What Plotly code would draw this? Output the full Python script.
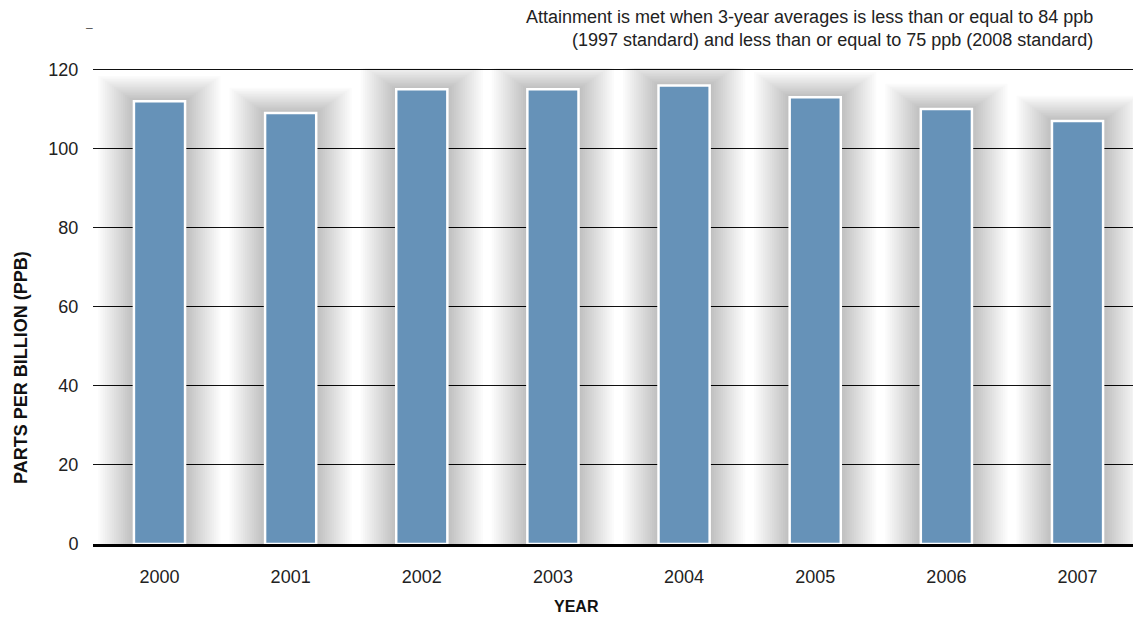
import plotly.graph_objects as go

years = ["2000", "2001", "2002", "2003", "2004", "2005", "2006", "2007"]
ozone_ppb = [112, 109, 115, 115, 116, 113, 110, 107]
y_ticks = [0, 20, 40, 60, 80, 100, 120]

note = ("Attainment is met when 3-year averages is less than or equal to 84 ppb<br>"
        "(1997 standard) and less than or equal to 75 ppb (2008 standard)")

FONT = "Liberation Sans"
BAR_W = 0.39
N_SHADOW = 16

fig = go.Figure()

# soft shadow around bars (layered translucent bars)
for k in range(1, N_SHADOW + 1):
    fig.add_trace(go.Bar(
        x=years, y=[v + 0.4 * k for v in ozone_ppb],
        width=BAR_W + 0.034 * k,
        marker=dict(color="rgba(0,0,0,0.016)", line=dict(width=0)),
        hoverinfo="skip", showlegend=False,
    ))

fig.add_trace(go.Bar(
    x=years, y=ozone_ppb, width=BAR_W,
    marker=dict(color="#6692b8", line=dict(color="white", width=2.5)),
    showlegend=False,
))

fig.update_layout(
    width=1140, height=617,
    barmode="overlay",
    plot_bgcolor="white", paper_bgcolor="white",
    margin=dict(l=93, r=7, t=68, b=73),
    font=dict(family=FONT, color="#222", size=18),
    xaxis=dict(
        range=[-0.507, 7.423],
        showgrid=False, showline=True, linecolor="black", linewidth=3,
        ticks="outside", ticklen=14, tickcolor="rgba(0,0,0,0)",
        tickfont=dict(size=18, color="#222"),
    ),
    yaxis=dict(
        range=[0, 120.4], tickvals=y_ticks,
        showgrid=True, gridcolor="#111", gridwidth=1,
        zeroline=False,
        ticks="outside", ticklen=10, tickcolor="rgba(0,0,0,0)",
        tickfont=dict(size=18, color="#222"),
    ),
    annotations=[
        dict(text=note, xref="paper", yref="paper", x=0.963, y=1.0, yshift=63,
             xanchor="right", yanchor="top", align="right", showarrow=False,
             font=dict(size=18, color="#222")),
        dict(text="–", xref="paper", yref="paper", x=-0.003, y=1.0, yshift=40,
             xanchor="center", yanchor="middle", showarrow=False,
             font=dict(size=12, color="#555")),
        dict(text="<b>YEAR</b>", xref="paper", yref="paper", x=0.465, y=0, yshift=-62,
             xanchor="center", yanchor="middle", showarrow=False,
             font=dict(size=16, color="#111")),
        dict(text="<b>PARTS PER BILLION (PPB)</b>", xref="paper", yref="paper",
             x=0, xshift=-72, y=0.37, xanchor="center", yanchor="middle",
             textangle=-90, showarrow=False,
             font=dict(size=18, color="#111")),
    ],
)

fig.write_html("out.html")
